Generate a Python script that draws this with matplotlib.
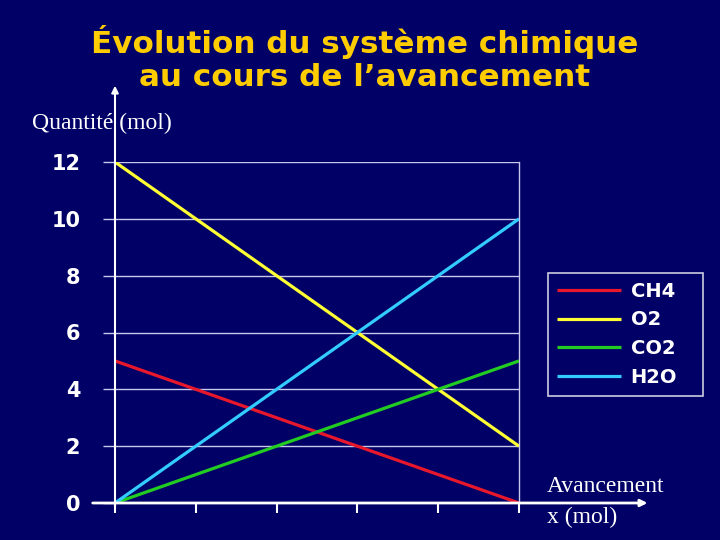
import matplotlib
matplotlib.use("Agg")
import matplotlib.pyplot as plt

avancement = [0, 1, 2, 3, 4, 5]
ch4 = [5, 4, 3, 2, 1, 0]
o2 = [12, 10, 8, 6, 4, 2]
co2 = [0, 1, 2, 3, 4, 5]
h2o = [0, 2, 4, 6, 8, 10]
series_names = ["CH4", "O2", "CO2", "H2O"]
y_ticks = [0, 2, 4, 6, 8, 10, 12]

bg = "#000066"
colors = ["#e8182c", "#ffff33", "#22cc22", "#33ccff"]

fig = plt.figure(figsize=(7.2, 5.4), dpi=100, facecolor=bg)
ax = fig.add_axes([115/720, 37/540, 404/720, 341/540], facecolor=bg)

for vals, name, c in zip([ch4, o2, co2, h2o], series_names, colors):
    ax.plot(avancement, vals, color=c, lw=2.3, label=name, solid_capstyle="butt", zorder=3)

ax.set_xlim(0, 5)
ax.set_ylim(0, 12)
ax.set_yticks(y_ticks)
ax.set_yticklabels([str(v) for v in y_ticks], color="white", fontweight="bold", fontsize=15, family="DejaVu Sans")
ax.set_xticks(avancement)
ax.set_xticklabels([])
ax.tick_params(axis="y", direction="out", length=9, width=1, color="#c8c8ee", pad=16)
ax.tick_params(axis="x", direction="out", length=7, width=1.5, color="white")
ax.yaxis.grid(True, color="#c8c8ee", lw=1)
for s in ["top", "left", "bottom"]:
    ax.spines[s].set_visible(False)
ax.spines["right"].set_color("#c8c8ee")
ax.spines["right"].set_linewidth(1)

# axes arrows
ax.annotate("", xy=(0, 1.232), xytext=(0, -0.02), xycoords="axes fraction",
            arrowprops=dict(arrowstyle="-|>", color="white", lw=1.5, mutation_scale=10), annotation_clip=False)
ax.annotate("", xy=(1.325, 0), xytext=(-0.062, 0), xycoords="axes fraction",
            arrowprops=dict(arrowstyle="-|>", color="white", lw=2, mutation_scale=10), annotation_clip=False)

leg = ax.legend(loc="upper left", bbox_to_anchor=(548/720, 1-392/540, 155/720, 119/540),
                bbox_transform=fig.transFigure, mode="expand",
                borderaxespad=0, frameon=True, fancybox=False, facecolor=bg, edgecolor="white",
                prop=dict(weight="bold", size=14, family="DejaVu Sans"),
                handlelength=3.3, labelspacing=0.5, borderpad=0.45, handletextpad=0.5)
leg.get_frame().set_linewidth(1.2)
for t in leg.get_texts():
    t.set_color("white")

fig.text(365/720, 1-42/540, "Évolution du système chimique", ha="center", va="center",
         color="#ffcc00", fontsize=22.3, fontweight="bold", family="DejaVu Sans")
fig.text(365/720, 1-78/540, "au cours de l’avancement", ha="center", va="center",
         color="#ffcc00", fontsize=22.3, fontweight="bold", family="DejaVu Sans")

fig.text(32/720, 1-123/540, "Quantité (mol)", ha="left", va="center", color="white",
         fontsize=17, family="Liberation Serif")
fig.text(547/720, 1-487/540, "Avancement", ha="left", va="center", color="white",
         fontsize=17, family="Liberation Serif")
fig.text(547/720, 1-517/540, "x (mol)", ha="left", va="center", color="white",
         fontsize=17, family="Liberation Serif")

fig.savefig("out.png", dpi=100, facecolor=bg)
